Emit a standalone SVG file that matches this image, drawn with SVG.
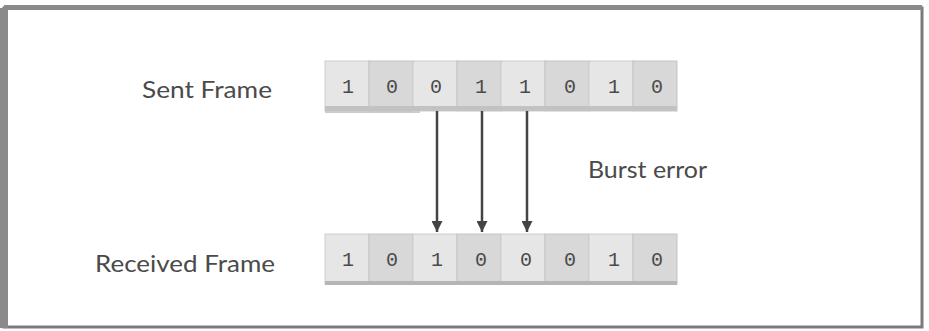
<svg xmlns="http://www.w3.org/2000/svg" width="929" height="331" viewBox="0 0 929 331">
<style>
.lbl{font-family:Lato,"Open Sans","Liberation Sans",sans-serif;font-size:23px;fill:#4a4a4a}
.bit{font-family:"Liberation Mono","DejaVu Sans Mono",monospace;font-size:20px;fill:#4a4a4a;text-anchor:middle}
.ca{fill:#e6e6e6;stroke:#cdcdcd;stroke-width:1}
.cb{fill:#d8d8d8;stroke:#c4c4c4;stroke-width:1}
.arr{stroke:#444;stroke-width:2.5;fill:none;marker-end:url(#ah)}
</style>
<defs>
<marker id="ah" markerWidth="11" markerHeight="11" refX="10" refY="5" orient="auto" markerUnits="userSpaceOnUse" viewBox="0 0 10 10">
<path d="M0,0 L10,5 L0,10 Z" fill="#444"/>
</marker>
</defs>
<rect width="929" height="331" fill="#fff"/>
<rect x="4" y="8" width="918" height="319" fill="none" stroke="#7a7a7a" stroke-width="3"/>
<rect x="0" y="8" width="8" height="320" fill="#8a8a8a"/>
<rect x="4" y="5" width="918" height="5" fill="#8a8a8a"/>

<g id="sent-label"><text class="lbl" x="142" y="98" textLength="130" lengthAdjust="spacingAndGlyphs">Sent Frame</text></g>
<g id="received-label"><text class="lbl" x="95" y="272" textLength="180" lengthAdjust="spacingAndGlyphs">Received Frame</text></g>
<g id="burst-label"><text class="lbl" x="588" y="178" textLength="119" lengthAdjust="spacingAndGlyphs">Burst error</text></g>

<g id="sent-frame">
<rect x="325" y="111" width="95" height="2" fill="#ccc"/>
<rect class="ca" x="325" y="61" width="44" height="50"/>
<rect class="cb" x="369" y="61" width="44" height="50"/>
<rect class="ca" x="413" y="61" width="44" height="50"/>
<rect class="cb" x="457" y="61" width="44" height="50"/>
<rect class="ca" x="501" y="61" width="44" height="50"/>
<rect class="cb" x="545" y="61" width="44" height="50"/>
<rect class="ca" x="589" y="61" width="44" height="50"/>
<rect class="cb" x="633" y="61" width="44" height="50"/>
<rect x="325" y="106" width="352" height="5" fill="#c2c2c2"/>
<text class="bit" x="348" y="93">1</text>
<text class="bit" x="392" y="93">0</text>
<text class="bit" x="436" y="93">0</text>
<text class="bit" x="481" y="93">1</text>
<text class="bit" x="525" y="93">1</text>
<text class="bit" x="570" y="93">0</text>
<text class="bit" x="614" y="93">1</text>
<text class="bit" x="657" y="93">0</text>
</g>

<g id="received-frame">
<rect class="ca" x="325" y="234" width="44" height="50"/>
<rect class="cb" x="369" y="234" width="44" height="50"/>
<rect class="ca" x="413" y="234" width="44" height="50"/>
<rect class="cb" x="457" y="234" width="44" height="50"/>
<rect class="ca" x="501" y="234" width="44" height="50"/>
<rect class="cb" x="545" y="234" width="44" height="50"/>
<rect class="ca" x="589" y="234" width="44" height="50"/>
<rect class="cb" x="633" y="234" width="44" height="50"/>
<rect x="325" y="281" width="352" height="4" fill="#b5b5b5"/>
<text class="bit" x="348" y="266">1</text>
<text class="bit" x="392" y="266">0</text>
<text class="bit" x="437" y="266">1</text>
<text class="bit" x="481" y="266">0</text>
<text class="bit" x="526" y="266">0</text>
<text class="bit" x="570" y="266">0</text>
<text class="bit" x="614" y="266">1</text>
<text class="bit" x="657" y="266">0</text>
</g>

<g id="connectors">
<line class="arr" x1="437" y1="111" x2="437" y2="232"/>
<line class="arr" x1="482" y1="111" x2="482" y2="232"/>
<line class="arr" x1="527" y1="111" x2="527" y2="232"/>
</g>
</svg>
